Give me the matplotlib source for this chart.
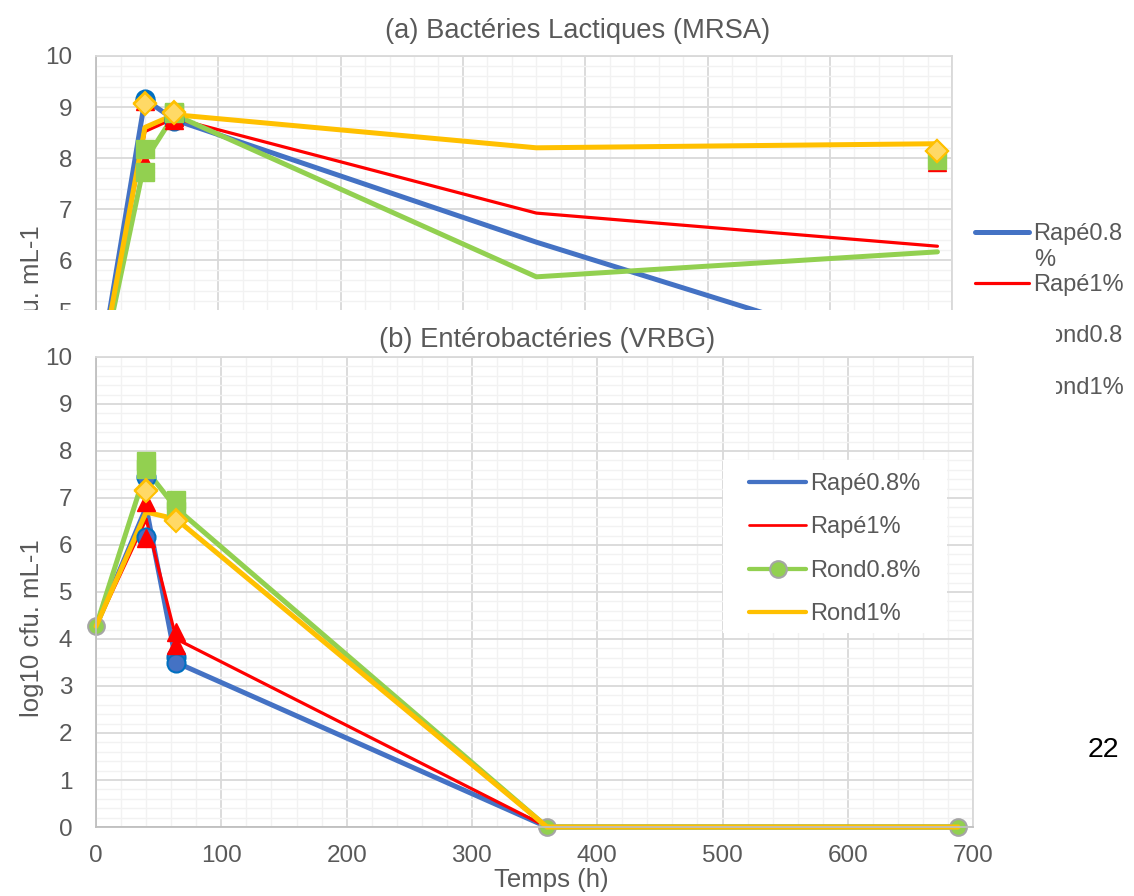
import matplotlib
matplotlib.use('Agg')
import matplotlib.pyplot as plt
from matplotlib.ticker import MultipleLocator
from matplotlib.lines import Line2D
from matplotlib.patches import Rectangle

plt.rcParams['font.family'] = ['Liberation Sans', 'DejaVu Sans']

# sampling times (h)
temps = [0, 40, 64, 360, 688]
t_rep_a = [40, 64, 688]
t_rep_b = [40, 64]
series = ['Rapé0.8%', 'Rapé1%', 'Rond0.8%', 'Rond1%']

# (a) lactic bacteria, mean curves
a_rape08 = [3.4, 9.15, 8.75, 6.35, 3.9]
a_rape1 = [3.4, 8.52, 8.78, 6.92, 6.27]
a_rond08 = [3.4, 7.95, 8.85, 5.67, 6.16]
a_rond1 = [3.4, 8.6, 8.85, 8.2, 8.28]
# (a) replicates
a_rape08_r1 = [9.16, 8.73, 3.9]
a_rape08_r2 = [9.12, 8.76, 3.9]
a_rape1_r1 = [7.9, 8.75, 7.92]
a_rape1_r2 = [9.12, 8.8, 4.6]
a_rond08_r1 = [8.18, 8.9, 7.96]
a_rond08_r2 = [7.73, 8.88, 4.36]
a_rond1_r1 = [9.08, 8.9, 8.14]
a_rond1_r2 = [9.06, 8.88, 8.14]

# (b) enterobacteria, mean curves
b_rape08 = [4.27, 6.8, 3.5, 0, 0]
b_rape1 = [4.27, 6.55, 4.0, 0, 0]
b_rond08 = [4.27, 7.6, 6.78, 0, 0]
b_rond1 = [4.27, 6.7, 6.55, 0, 0]
# (b) replicates
b_rape08_r1 = [6.17, 3.62]
b_rape08_r2 = [7.45, 3.49]
b_rape1_r1 = [6.92, 4.15]
b_rape1_r2 = [6.15, 3.87]
b_rond08_r1 = [7.79, 6.96]
b_rond08_r2 = [7.62, 6.72]
b_rond1_r1 = [7.17, 6.53]
b_rond1_r2 = [7.15, 6.51]

BLUE = '#4472C4'
RED = '#FF0000'
GREEN = '#92D050'
YELLOW = '#FFC000'
TXT = '#595959'
FS_TICK = 17.5
FS_LEG = 17
FS_TITLE = 19.7

line_styles = [
    dict(color=BLUE, lw=3.6),
    dict(color=RED, lw=2.3),
    dict(color=GREEN, lw=3.6),
    dict(color=YELLOW, lw=3.6),
]
rep_styles = [
    dict(marker='o', ms=13, mfc=BLUE, mec='#0070C0', mew=1.5),
    dict(marker='^', ms=13, mfc=RED, mec=RED, mew=1),
    dict(marker='s', ms=13, mfc=GREEN, mec=GREEN, mew=1),
    dict(marker='D', ms=11, mfc='#FFD966', mec=YELLOW, mew=1.5),
]


def style_axes(ax):
    ax.set_xlim(0, 700)
    ax.set_ylim(0, 10)
    ax.xaxis.set_major_locator(MultipleLocator(100))
    ax.xaxis.set_minor_locator(MultipleLocator(20))
    ax.yaxis.set_major_locator(MultipleLocator(1))
    ax.yaxis.set_minor_locator(MultipleLocator(0.2))
    ax.grid(which='major', color='#D9D9D9', lw=1.3, zorder=0)
    ax.grid(which='minor', color='#F2F2F2', lw=1.0, zorder=0)
    ax.set_axisbelow(True)
    ax.tick_params(which='both', length=0, labelsize=FS_TICK, labelcolor=TXT)
    ax.tick_params(axis='y', pad=17)
    ax.tick_params(axis='x', pad=13)
    for s in ax.spines.values():
        s.set_color('#D9D9D9')
        s.set_linewidth(1.3)
    ax.spines['left'].set_color('#BFBFBF')
    ax.spines['bottom'].set_color('#BFBFBF')


fig = plt.figure(figsize=(11.34, 8.96), dpi=100)

# ---- (a) MRSA
ax_a = fig.add_axes([0.0847, 0.3683, 0.7549, 0.5692])
style_axes(ax_a)
means_a = [a_rape08, a_rape1, a_rond08, a_rond1]
reps_a = [(a_rape08_r1, a_rape08_r2), (a_rape1_r1, a_rape1_r2),
          (a_rond08_r1, a_rond08_r2), (a_rond1_r1, a_rond1_r2)]
handles_a = []
for m, st in zip(means_a, line_styles):
    ln, = ax_a.plot(temps, m, solid_joinstyle='round', solid_capstyle='round',
                    zorder=2, **st)
    handles_a.append(ln)
for (r1, r2), st in zip(reps_a, rep_styles):
    ax_a.plot(t_rep_a, r1, ls='none', zorder=3, **st)
    ax_a.plot(t_rep_a, r2, ls='none', zorder=3, **st)
ax_a.set_title('(a) Bactéries Lactiques (MRSA)', fontsize=FS_TITLE, color=TXT,
               x=0.562, pad=13)
ax_a.set_ylabel('log10 cfu. mL-1', fontsize=18.5, color=TXT)
ax_a.yaxis.set_label_coords(-0.061, 0.494)
leg_a = ax_a.legend(handles_a, ['Rapé0.8', 'Rapé1%', 'Rond0.8', 'Rond1%'],
                    loc='upper left', bbox_to_anchor=(1.027, 0.673),
                    frameon=False, fontsize=FS_LEG, handlelength=2.29,
                    handletextpad=0.17, labelspacing=1.24, borderpad=0,
                    borderaxespad=0)
for t in leg_a.get_texts():
    t.set_color(TXT)
# wrapped end of the first legend label
ax_a.text(1.0958, 0.60, '%', transform=ax_a.transAxes, fontsize=FS_LEG,
          color=TXT, ha='left', va='center')

# white chart area of (b) laid over the lower part of (a)
ax_bg = fig.add_axes([0, 0, 0.9312, 0.654])
ax_bg.set_xticks([])
ax_bg.set_yticks([])
for s in ax_bg.spines.values():
    s.set_visible(False)
ax_bg.set_facecolor('white')

# ---- (b) VRBG
ax_b = fig.add_axes([0.0847, 0.0770, 0.7734, 0.5246])
style_axes(ax_b)
means_b = [b_rape08, b_rape1, b_rond08, b_rond1]
reps_b = [(b_rape08_r1, b_rape08_r2), (b_rape1_r1, b_rape1_r2),
          (b_rond08_r1, b_rond08_r2), (b_rond1_r1, b_rond1_r2)]
handles_b = []
for i, (m, st) in enumerate(zip(means_b, line_styles)):
    extra = {}
    if i == 2:
        extra = dict(marker='o', ms=12, mfc=GREEN, mec='#A5A5A5', mew=1.5)
    ln, = ax_b.plot(temps, m, solid_joinstyle='round', solid_capstyle='round',
                    zorder=2, clip_on=False, **st, **extra)
    handles_b.append(ln)
for (r1, r2), st in zip(reps_b, rep_styles):
    ax_b.plot(t_rep_b, r1, ls='none', zorder=3, **st)
    ax_b.plot(t_rep_b, r2, ls='none', zorder=3, **st)
ax_b.set_title('(b) Entérobactéries (VRBG)', fontsize=FS_TITLE, color=TXT,
               x=0.514, pad=7)
ax_b.set_ylabel('log10 cfu. mL-1', fontsize=18.5, color=TXT)
ax_b.yaxis.set_label_coords(-0.059, 0.424)
ax_b.set_xlabel('Temps (h)', fontsize=18.5, color=TXT)
ax_b.xaxis.set_label_coords(0.519, -0.088)

# legend panel: white box over the grid, entries without a frame
ax_b.add_patch(Rectangle((0.715, 0.413), 0.255, 0.368, transform=ax_b.transAxes,
                         facecolor='white', edgecolor='none', zorder=1.5))
leg_handles = []
for i, h in enumerate(handles_b):
    kw = dict(color=h.get_color(), lw=h.get_linewidth() * 0.85,
              solid_capstyle='round')
    if i == 2:
        kw.update(marker='o', ms=12, mfc=GREEN, mec='#A5A5A5', mew=1.5)
    leg_handles.append(Line2D([], [], **kw))
leg_b = ax_b.legend(leg_handles, series, loc='upper left',
                    bbox_to_anchor=(0.7446, 0.753), frameon=False,
                    fontsize=FS_LEG, handlelength=2.42, handletextpad=0.17,
                    labelspacing=0.905, borderpad=0, borderaxespad=0)
for t in leg_b.get_texts():
    t.set_color(TXT)

fig.text(0.9727, 0.163, '22', fontsize=20.5, color='black',
         ha='center', va='center')

fig.savefig('out.png', dpi=100)
